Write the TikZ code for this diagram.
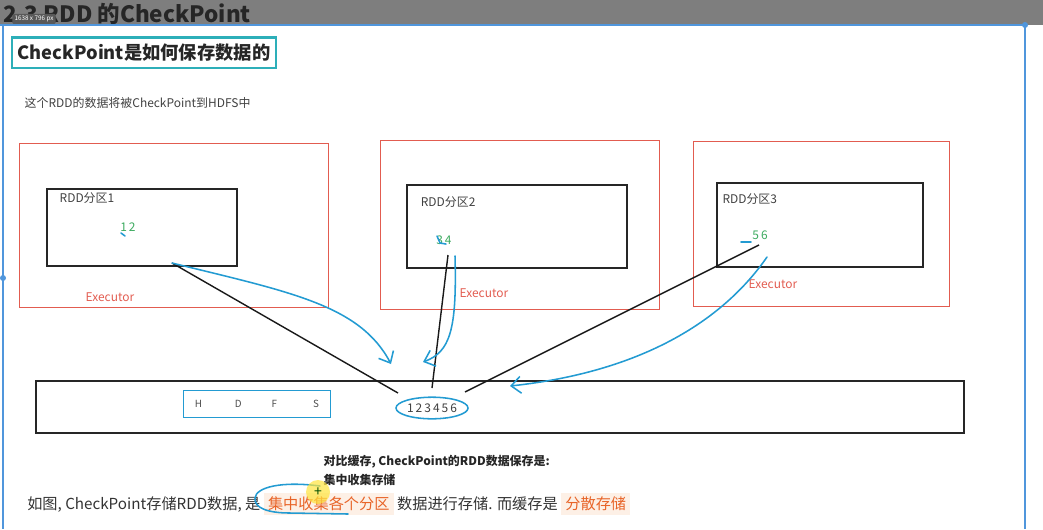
\documentclass[tikz,border=0pt]{standalone}
\usepackage{fontspec}
\setmainfont{Noto Sans CJK SC}
\usepackage{tikz}
\usetikzlibrary{arrows.meta, positioning, calc}
\definecolor{execred}{RGB}{226,92,80}
\definecolor{numgreen}{RGB}{60,170,95}
\definecolor{handblue}{RGB}{35,155,210}
\definecolor{titleteal}{RGB}{45,175,185}
\definecolor{framblue}{RGB}{80,150,220}
\definecolor{bargray}{RGB}{126,126,126}
\definecolor{hlorange}{RGB}{232,100,40}
\definecolor{hlbg}{RGB}{253,240,230}
\definecolor{cursoryellow}{RGB}{255,228,60}

\begin{document}
\begin{tikzpicture}[
  x=0.025cm, y=-0.025cm,
  font=\fontsize{8.5}{10}\selectfont,
  executor/.style={draw=execred,line width=0.9pt,anchor=north west,inner sep=0pt},
  part/.style={draw=black!85,line width=1.2pt,anchor=north west,inner sep=0pt},
  lbl/.style={text=black!75,inner sep=1pt,anchor=north west},
  nums/.style={text=numgreen,inner sep=1pt},
  exlbl/.style={text=execred,inner sep=1pt},
  hand/.style={draw=handblue,line width=1.1pt,line cap=round},
  handarr/.style={hand,-{Straight Barb[length=2.4mm,width=4.2mm]}},
  link/.style={draw=black!90,line width=1pt},
  frame/.style={draw=framblue,line width=0.9pt},
  tag/.style={fill=black!65,text=white,rounded corners=1pt,inner sep=1.5pt,font=\fontsize{4.5}{5}\selectfont}
]
\useasboundingbox (0,0) rectangle (1043,529);
% screen bar and frame
\fill[bargray] (0,0) rectangle (1043,25);
\node[anchor=west,inner sep=0pt,text=black!85,font=\fontsize{16}{18}\selectfont\bfseries] (sect) at (3,14) {2.3 RDD 的CheckPoint};
\node[tag] (size) at (34,19) {1638 x 796 px};
\draw[frame] (0,25) -- (1025,25) -- (1025,529);
\draw[frame] (3,25) -- (3,529);
\fill[framblue] (1025,25) circle (3) (3,278) circle (3);

% heading
\node[draw=titleteal,line width=0.8pt,minimum width=6.6cm,minimum height=0.75cm,inner sep=0pt,
  text=black!85,font=\fontsize{13}{14}\selectfont\bfseries] (ttl) at (144,53) {CheckPoint是如何保存数据的};
\draw[titleteal,line width=2pt] (ttl.north west) -- (ttl.north east);
\node[lbl,anchor=west] (intro) at (23,103) {这个RDD的数据将被CheckPoint到HDFS中};

% executors and partitions
\node[executor,minimum width=7.725cm,minimum height=4.1cm] (ex1) at (19,143) {};
\node[executor,minimum width=6.975cm,minimum height=4.225cm] (ex2) at (380,140) {};
\node[executor,minimum width=6.4cm,minimum height=4.125cm] (ex3) at (693,141) {};
\node[part,minimum width=4.75cm,minimum height=1.925cm] (p1) at (46,188) {};
\node[part,minimum width=5.5cm,minimum height=2.075cm] (p2) at (406,184) {};
\node[part,minimum width=5.15cm,minimum height=2.1cm] (p3) at (716,182) {};
\node[lbl,below right=0.08cm and 0.3cm of p1.north west] (p1t) {RDD分区1};
\node[lbl,below right=0.28cm and 0.33cm of p2.north west] (p2t) {RDD分区2};
\node[lbl,below right=0.26cm and 0.12cm of p3.north west] (p3t) {RDD分区3};
\node[nums] (n1) at (128,227) {1\,2};
\node[nums] (n2) at (444,240) {3\,4};
\node[nums] (n3) at (760,235) {5\,6};
\node[exlbl] (e1) at (110,297) {Executor};
\node[exlbl] (e2) at (484,293) {Executor};
\node[exlbl] (e3) at (773,284) {Executor};

% hdfs
\node[draw=black!85,line width=1.5pt,anchor=north west,inner sep=0pt,minimum width=23.2cm,minimum height=1.3cm] (hdfs) at (35,380) {};
\node[draw=handblue,line width=1pt,minimum width=3.675cm,minimum height=0.675cm,inner sep=0pt,
  text=black!70,font=\fontsize{7}{8}\selectfont] (hdfsname) at (257,404) {H\hspace{0.82cm}D\hspace{0.75cm}F\hspace{0.9cm}S};
\node[text=black!75,inner sep=1pt,font=\fontsize{8.5}{10}\selectfont] (blocks) at (432,408) {1\,2\,3\,4\,5\,6};
\draw[hand] (blocks.center) ellipse [x radius=0.9cm, y radius=0.27cm];

% checkpoint paths
\coordinate (p1out) at (172,263);
\coordinate (p2out) at (448,255);
\coordinate (p3out) at (759,245);
\coordinate (t1) at (398,393);
\coordinate (t2) at (432,388);
\coordinate (t3) at (465,392);
\draw[link] (p1out) -- (t1);
\draw[link] (p2out) -- (t2);
\draw[link] (p3out) -- (t3);

% hand annotations
\coordinate (b2s) at (455,256);
\coordinate (b3s) at (767,257);
\coordinate (b1e) at (391,364);
\coordinate (b2e) at (423,362);
\coordinate (b3e) at (510,386);
\draw[handarr] (p1out) .. controls (290,292) and (360,305) .. (b1e);
\draw[handarr] (b2s) .. controls (457,330) and (450,352) .. (b2e);
\draw[handarr] (b3s) .. controls (722,322) and (640,372) .. (b3e);
\draw[hand] (121,233) -- (125,236);
\draw[hand] (437,236) -- (440,243) -- (446,244);
\draw[hand] (741,242) -- (751,242);

% notes
\node[lbl,anchor=west,text=black!85,font=\fontsize{8.5}{10}\selectfont\bfseries] (cmp) at (322,462) {对比缓存, CheckPoint的RDD数据保存是:};
\node[lbl,anchor=west,text=black!85,font=\fontsize{8.5}{10}\selectfont\bfseries] (cmp2) at (322,480) {集中收集存储};
\node[anchor=west,inner sep=0pt,text=black!80,font=\fontsize{10.8}{12}\selectfont] (summary) at (27,504)
  {如图, CheckPoint存储RDD数据, 是 \colorbox{hlbg}{\textcolor{hlorange}{集中收集各个分区}} 数据进行存储. 而缓存是 \colorbox{hlbg}{\textcolor{hlorange}{分散存储}}};
\draw[hand] (320,486) .. controls (282,481) and (256,487) .. (255,498) .. controls (254,508) and (268,513) .. (290,513) -- (348,514);
\node[circle,fill=cursoryellow,fill opacity=0.7,text opacity=1,minimum size=0.6cm,inner sep=0pt,text=black!70!green,font=\fontsize{10}{10}\selectfont] (cursor) at (318,492) {+};
\end{tikzpicture}
\end{document}
